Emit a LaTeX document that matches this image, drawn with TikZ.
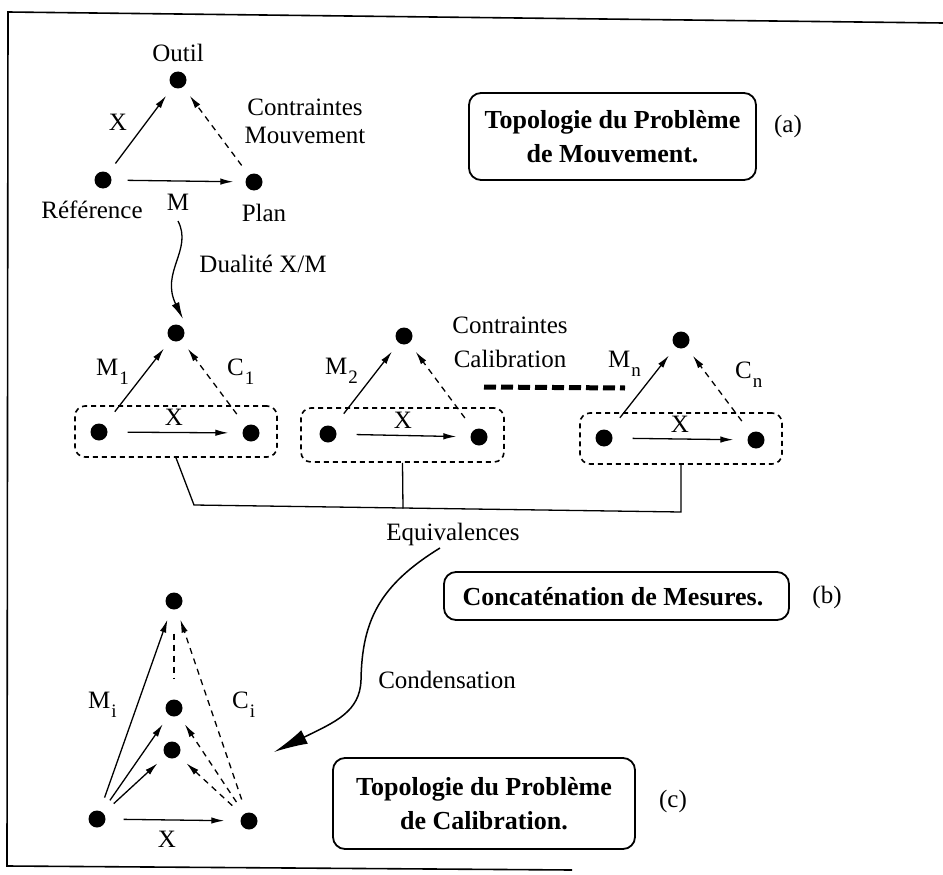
\documentclass[tikz,border=0pt]{standalone}
\usepackage{fontspec}
\setmainfont{Liberation Serif}
\usetikzlibrary{arrows.meta}
\newcommand{\sbs}[1]{\kern1pt\raisebox{-9pt}{\fontsize{19}{19}\selectfont #1}}
\begin{document}
\begin{tikzpicture}[x=1pt,y=-1pt,
  dot/.style={circle,fill=black,inner sep=0pt,minimum size=17pt},
  lbl/.style={font=\fontsize{25}{30}\selectfont,inner sep=0pt,anchor=base},
  boxtxt/.style={draw,line width=1.8pt,rounded corners=12pt,align=center,inner sep=0pt,
     font=\fontsize{26}{34}\selectfont\bfseries},
  arr/.style={line width=1.3pt,-{Latex[length=13pt,width=6.5pt]},shorten <=12pt,shorten >=11pt},
  harr/.style={arr,shorten <=16pt,shorten >=12pt},
  darr/.style={arr,dash pattern=on 6pt off 5pt},
  grp/.style={draw,line width=1.6pt,dash pattern=on 5pt off 4pt,rounded corners=10pt,inner sep=0pt},
  frame/.style={line width=1.6pt},
]
\useasboundingbox (0,0) rectangle (943,875);
% frame
\coordinate (f1) at (943,23);
\coordinate (f2) at (8,12);
\coordinate (f3) at (7,866);
\coordinate (f4) at (572,870);
\draw[frame] (f1) -- (f2) -- (f3) -- (f4);

% ---------- (a)
\node[dot] (O) at (178,80) {};
\node[dot] (R) at (103,180) {};
\node[dot] (P) at (254,182) {};
\draw[arr] (R) -- (O);
\draw[darr] (P) -- (O);
\draw[harr] (R) -- (P);
\node[lbl] (lO) at (178,62) {Outil};
\node[lbl] (lR) at (92,218) {Référence};
\node[lbl] (lP) at (264,221) {Plan};
\node[lbl] (lM) at (178,210) {M};
\node[lbl] (lX) at (118,130) {X};
\node[lbl] (lC1) at (305,115) {Contraintes};
\node[lbl] (lM1) at (305,143) {Mouvement};
\node[boxtxt,minimum width=287pt,minimum height=87pt] (ba) at (612.5,136.5)
  {Topologie du Problème\\de Mouvement.};
\node[lbl] (la) at (788,132) {(a)};

% duality
\coordinate (d0) at (178,221);
\node[dot] (t1) at (176,333) {};
\draw[line width=1.3pt,-{Latex[length=17pt,width=8pt]}] (d0) .. controls (193,250) and (160,272) .. (183,319);
\node[lbl] (lD) at (263,272) {Dualité X/M};

% ---------- (b)
\node[dot] (a1) at (99,432) {};
\node[dot] (b1) at (251,433) {};
\node[dot] (t2) at (404,336) {};
\node[dot] (a2) at (328,434) {};
\node[dot] (b2) at (479,437) {};
\node[dot] (t3) at (681,340) {};
\node[dot] (a3) at (604,438) {};
\node[dot] (b3) at (756,440) {};
\node[grp,minimum width=202pt,minimum height=51pt] (g1) at (176,431.5) {};
\node[grp,minimum width=203pt,minimum height=54pt] (g2) at (402.5,435) {};
\node[grp,minimum width=202pt,minimum height=51pt] (g3) at (681,438.5) {};
\foreach \i in {1,2,3}{
  \draw[arr,shorten <=17pt] (a\i) -- (t\i);
  \draw[darr,shorten <=15pt] (b\i) -- (t\i);
  \draw[harr,shorten <=20pt,shorten >=14pt] (a\i) -- (b\i);
}
\node[lbl] (x1) at (174,425) {X};
\node[lbl] (x2) at (403,428) {X};
\node[lbl] (x3) at (680,432) {X};
\node[lbl,anchor=base west] (m1) at (96,375) {M\sbs{1}};
\node[lbl,anchor=base west] (c1) at (227,375) {C\sbs{1}};
\node[lbl,anchor=base west] (m2) at (325,374) {M\sbs{2}};
\node[lbl,anchor=base west] (mn) at (608,367) {M\sbs{n}};
\node[lbl,anchor=base west] (cn) at (735,378) {C\sbs{n}};
\node[lbl] (lCC1) at (510,333) {Contraintes};
\node[lbl] (lCC2) at (510,367) {Calibration};
\coordinate (dl1) at (484,387);
\coordinate (dl2) at (625,388);
\draw[line width=5pt,dash pattern=on 12pt off 5pt] (dl1) -- (dl2);
% equivalences bracket
\coordinate (e1) at (194,505);
\coordinate (e2) at (403,508.5);
\coordinate (e3) at (681,512);
\draw[line width=1.3pt] (g1.south) -- (e1) -- (e3) -- (g3.south);
\draw[line width=1.3pt] (g2.south) -- (e2);
\node[lbl] (lE) at (453,540) {Equivalences};
\node[boxtxt,minimum width=345pt,minimum height=48pt] (bb) at (616.5,596) {};
\node[lbl,font=\fontsize{26}{34}\selectfont\bfseries] (tb) at (613,605) {Concaténation de Mesures.};
\node[lbl] (lb) at (827,603) {(b)};

% condensation
\coordinate (k0) at (440,548);
\coordinate (k1) at (274,752);
\draw[line width=1.5pt,-{Latex[length=34pt,width=15pt]}] (k0) .. controls (380,585) and (362,620) .. (361,680)
   .. controls (360,712) and (335,722) .. (k1);
\node[lbl] (lK) at (447,688) {Condensation};

% ---------- (c)
\node[dot] (ct) at (174,601) {};
\node[dot] (cm) at (174,708) {};
\node[dot] (cl) at (172,750) {};
\node[dot] (ca) at (97,819) {};
\node[dot] (cb) at (249,821) {};
\draw[arr,shorten <=14pt] (ca) -- (ct);
\draw[arr,shorten <=14pt] (ca) -- (cm);
\draw[arr,shorten <=14pt] (ca) -- (cl);
\draw[harr,shorten <=18pt,shorten >=16pt] (ca) -- (cb);
\draw[darr,shorten <=14pt] (cb) -- (ct);
\draw[darr,shorten <=14pt] (cb) -- (cm);
\draw[darr,shorten <=14pt] (cb) -- (cl);
\draw[line width=1.3pt,dash pattern=on 6pt off 5pt,shorten <=24pt,shorten >=20pt] (ct) -- (cm);
\node[lbl,anchor=base west] (mi) at (88,708) {M\sbs{i}};
\node[lbl,anchor=base west] (ci) at (232,708) {C\sbs{i}};
\node[lbl] (xc) at (167,847) {X};
\node[boxtxt,minimum width=302pt,minimum height=91pt] (bc) at (484,803.5)
  {Topologie du Problème\\de Calibration.};
\node[lbl] (lc) at (673,807) {(c)};
\end{tikzpicture}
\end{document}
